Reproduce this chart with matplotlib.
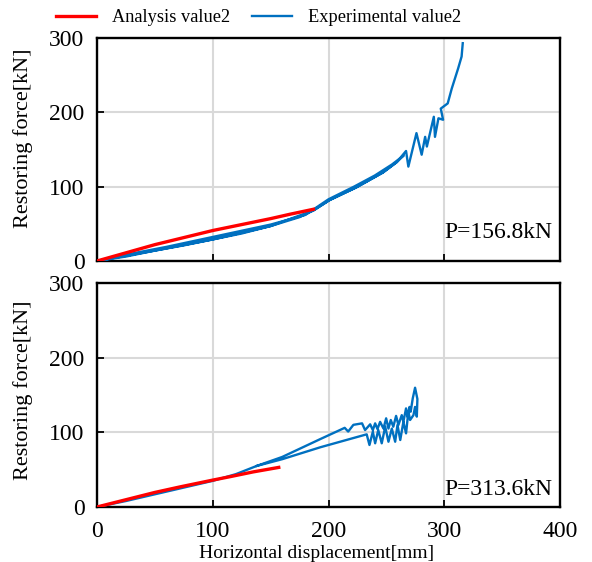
import matplotlib
matplotlib.use('Agg')
import matplotlib.pyplot as plt

plt.rcParams['font.family'] = ['Liberation Serif', 'DejaVu Serif']

# upper panel (P=156.8kN)
ana1_x = [0, 50, 100, 150, 167, 187]
ana1_y = [0, 22, 41, 57, 63, 69.6]

exp1_x = [0, 30, 60, 90, 120, 150, 180, 200, 222, 240, 255, 265,
          259, 247, 224, 201, 187, 175, 150, 125, 100, 75, 50, 25, 0,
          50, 100, 150, 187, 201, 224, 247, 259, 267, 269, 276, 280.5, 283.5, 285,
          291, 292, 295, 299, 297, 303, 306.5, 312, 315, 316]
exp1_y = [0, 10, 19, 29, 39, 49, 62, 83, 100, 115, 130, 142,
          133, 119, 99, 82, 68, 59, 47, 37, 29, 21, 14, 6, 0,
          14, 29, 47, 68, 82, 99, 119, 133, 148, 127, 172, 143, 167, 154,
          194, 167, 192, 190, 205, 212, 232, 259, 275, 293]

# lower panel (P=313.6kN)
ana2_x = [0, 50, 72, 100, 115, 135, 157]
ana2_y = [0, 19.5, 27, 36, 40.6, 47, 53]

exp2_x = [0, 25, 50, 75, 100, 120, 138, 160, 193, 214, 217, 221.5, 229, 231.6,
          236, 238.3, 240.3, 242.3, 244.6, 247.5, 249.8, 251.8, 253.8, 256, 258.4,
          260.4, 263.3, 264.7, 267, 268.2, 270, 271, 272.8, 274.8, 276.8,
          276.3, 274.8, 273.4, 270.5, 269, 267, 264.7, 262, 259.6, 257.6, 254.7,
          251.8, 249, 246, 243, 240.3, 238.3, 235.4, 233, 193, 160, 138]
exp2_y = [0, 8, 17, 26, 35, 44, 55, 67, 91, 106, 101, 110, 112, 103,
          110.7, 103, 112, 104.4, 114, 105, 118.7, 105, 116.5, 107.5, 122,
          109.8, 123, 114, 132, 121, 134, 127.6, 145.5, 159.7, 144.6,
          121, 134, 123, 116.5, 127.6, 98.6, 114, 89.7, 109.8, 87.4, 105,
          87.4, 107.5, 85.3, 103, 85.3, 100.8, 83, 97.3, 80, 64, 55]

labels = ['P=156.8kN', 'P=313.6kN']
label_y = [0.13, 0.08]
ylab_y = [0.55, 0.52]

red = '#ff0000'
blue = '#0070c0'

fig = plt.figure(figsize=(5.92, 5.62), dpi=100)
ax1 = fig.add_axes([0.1639, 0.5356, 0.782, 0.3968])
ax2 = fig.add_axes([0.1639, 0.0979, 0.782, 0.3986])

data = [(ana1_x, ana1_y, exp1_x, exp1_y), (ana2_x, ana2_y, exp2_x, exp2_y)]

for i, ax in enumerate([ax1, ax2]):
    ax_, ay_, ex_, ey_ = data[i]
    ax.plot(ex_, ey_, color=blue, lw=1.7, label='Experimental value2', zorder=3)
    ax.plot(ax_, ay_, color=red, lw=2.4, label='Analysis value2', zorder=4)
    ax.set_xlim(0, 400)
    ax.set_ylim(0, 300)
    ax.set_xticks([0, 100, 200, 300, 400])
    ax.set_yticks([0, 100, 200, 300])
    ax.grid(True, color='#d9d9d9', lw=1.5)
    ax.set_axisbelow(True)
    ax.tick_params(direction='in', length=5, width=1.3, labelsize=17)
    ax.tick_params(axis='y', pad=9)
    ax.tick_params(axis='x', pad=10)
    for s in ax.spines.values():
        s.set_linewidth(1.7)
    ax.set_ylabel('Restoring force[kN]', fontsize=16)
    ax.yaxis.set_label_coords(-0.138, ylab_y[i])
    ax.text(0.983, label_y[i], labels[i], transform=ax.transAxes,
            ha='right', va='center', fontsize=17)

ax1.tick_params(labelbottom=False)
ax2.set_xlabel('Horizontal displacement[mm]', fontsize=14)
ax2.xaxis.set_label_coords(0.474, -0.17)

h, l = ax1.get_legend_handles_labels()
fig.legend(h[::-1], l[::-1], ncol=2, frameon=False, loc='center',
           bbox_to_anchor=(0.437, 0.968), fontsize=13.2, handlelength=2.18,
           columnspacing=1.2, handletextpad=0.87)

fig.savefig('out.png', dpi=100)
